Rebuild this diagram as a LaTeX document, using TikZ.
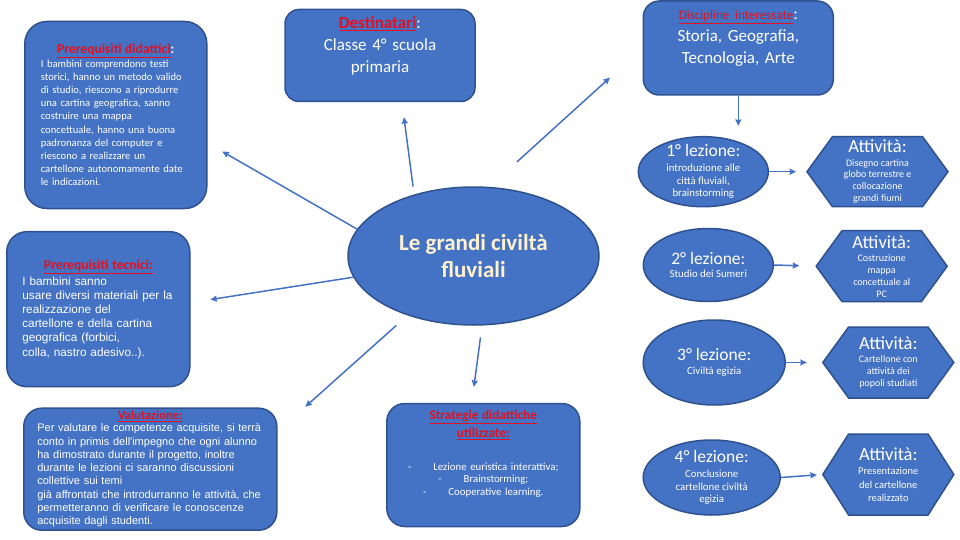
\documentclass[tikz,border=0pt]{standalone}
\usepackage{fontspec}
\setmainfont{Carlito}
\newfontfamily\arialfont{Liberation Sans}
\usetikzlibrary{arrows.meta,shapes.geometric,shapes.symbols}
\definecolor{boxblue}{RGB}{68,114,196}
\definecolor{boxline}{RGB}{47,82,143}
\definecolor{titlered}{RGB}{226,16,32}
\definecolor{topiccream}{RGB}{255,242,204}
\newcommand{\boxtitle}[1]{{\color{titlered}\underline{#1}}}
\tikzset{
  info box/.style={
    rectangle, rounded corners=18pt, draw=boxline, line width=1.5pt,
    fill=boxblue, text=white, inner sep=0pt
  },
  topic/.style={
    ellipse, draw=boxline, line width=1.5pt, fill=boxblue,
    text=topiccream, align=center, inner sep=0pt,
    font=\bfseries\fontsize{23}{27}\selectfont,
    minimum width=251pt, minimum height=138pt
  },
  lesson/.style={
    ellipse, draw=boxline, line width=1.5pt, fill=boxblue, text=white,
    align=center, inner xsep=0pt, inner ysep=-14pt,
    font=\fontsize{10.8}{12.7}\selectfont
  },
  activity/.style={
    signal, signal to=west and east, signal pointer angle=108,
    draw=boxline, line width=1.5pt, fill=boxblue, text=white,
    align=center, inner xsep=0pt, inner ysep=-8pt,
    minimum width=131pt, minimum height=71pt,
    font=\fontsize{10}{11.9}\selectfont
  },
  link/.style={-{Stealth[length=6.5pt,width=6pt,inset=0.5pt]}, line width=1.5pt, boxblue}
}

\begin{document}
\begin{tikzpicture}[x=1pt,y=-1pt]
  \useasboundingbox (0,0) rectangle (960,540);

  % central topic
  \node[topic] (hub) at (473.5,256) {Le grandi civiltà\\fluviali};

  % boxes round the topic
  \node[info box, minimum width=182pt, minimum height=187pt, rounded corners=22pt,
        text width=150pt, align=left, font=\fontsize{10.6}{13.2}\selectfont] (did) at (115.8,115)
    {\makebox[\linewidth]{\bfseries\fontsize{13.5}{14}\selectfont\boxtitle{Prerequisiti didattici}:}\\[0.5pt]
     I bambini comprendono testi\\storici, hanno un metodo valido\\di studio, riescono a riprodurre\\
     una cartina geografica, sanno\\costruire una mappa\\concettuale, hanno una buona\\
     padronanza del computer e\\riescono a realizzare un\\cartellone autonomamente date\\le indicazioni.};

  \node[info box, minimum width=183pt, minimum height=155pt, rounded corners=20pt,
        text width=152pt, align=left, font=\arialfont\fontsize{11.8}{14.1}\selectfont] (tec) at (98.3,309.2)
    {\makebox[\linewidth]{\normalfont\bfseries\fontsize{13.5}{14}\selectfont\boxtitle{Prerequisiti tecnici:}}\\[2pt]
     I bambini sanno\\usare diversi materiali per la\\realizzazione del\\cartellone e della cartina\\
     geografica (forbici,\\colla, nastro adesivo..).};

  \node[info box, minimum width=253pt, minimum height=122pt,
        text width=226pt, align=left, font=\arialfont\fontsize{11}{13.3}\selectfont] (val) at (150.3,469.2)
    {\makebox[\linewidth]{\normalfont\bfseries\fontsize{12.5}{13}\selectfont\boxtitle{Valutazione:}}\\[-1.5pt]
     Per valutare le competenze acquisite, si terrà\\conto in primis dell'impegno che ogni alunno\\
     ha dimostrato durante il progetto, inoltre\\durante le lezioni ci saranno discussioni\\
     collettive sui temi\\già affrontati che introdurranno le attività, che\\
     permetteranno di verificare le conoscenze\\acquisite dagli studenti.};

  \node[info box, minimum width=190pt, minimum height=92pt, rounded corners=14pt,
        text width=180pt, align=center, font=\fontsize{17}{22}\selectfont] (dest) at (380,55.5)
    {{\bfseries\boxtitle{Destinatari}}:\\Classe 4° scuola\\primaria\\\mbox{}};

  \node[info box, minimum width=190pt, minimum height=94pt, rounded corners=16pt,
        text width=180pt, align=center, font=\fontsize{17}{22}\selectfont] (disc) at (738.3,48)
    {{\fontsize{13}{14}\selectfont\boxtitle{Discipline interessate}}:\\Storia, Geografia,\\Tecnologia, Arte\\\mbox{}};

  \node[info box, minimum width=193pt, minimum height=123pt,
        text width=180pt, align=center, font=\fontsize{10.8}{12.5}\selectfont] (strat) at (483.3,465)
    {{\bfseries\fontsize{13.2}{14}\selectfont\boxtitle{Strategie didattiche}\\[4pt]\boxtitle{utilizzate:}}\\[20pt]
     -\hspace{22pt}Lezione euristica interattiva;\\-\hspace{22pt}Brainstorming;\\
     -\hspace{22pt}Cooperative learning.\\[12pt]\mbox{}};

  % lessons and activities
  \node[lesson, minimum width=130pt, minimum height=70pt] (les1) at (703.3,171.7)
    {{\fontsize{17.5}{18}\selectfont 1° lezione:}\\[2pt]introduzione alle\\città fluviali,\\brainstorming};
  \node[lesson, minimum width=130pt, minimum height=73pt] (les2) at (708.3,265)
    {{\fontsize{17.5}{18}\selectfont 2° lezione:}\\[0pt]Studio dei Sumeri};
  \node[lesson, minimum width=142pt, minimum height=85pt] (les3) at (714.2,362.5)
    {{\fontsize{17.5}{18}\selectfont 3° lezione:}\\[1.5pt]Civiltà egizia};
  \node[lesson, minimum width=137pt, minimum height=75pt] (les4) at (711.7,477.5)
    {{\fontsize{17.5}{18}\selectfont 4° lezione:}\\[2pt]Conclusione\\cartellone civiltà\\egizia};

  \node[activity, minimum width=141pt, minimum height=70pt] (act1) at (877.5,171.7)
    {{\fontsize{18.5}{18}\selectfont Attività:}\\[1.5pt]Disegno cartina\\globo terrestre e\\collocazione\\grandi fiumi};
  \node[activity] (act2) at (881.7,266.2)
    {{\fontsize{18.5}{18}\selectfont Attività:}\\[1.5pt]Costruzione\\mappa\\concettuale al\\PC};
  \node[activity] (act3) at (888.3,362.5)
    {{\fontsize{18.5}{18}\selectfont Attività:}\\[1.5pt]Cartellone con\\attività dei\\popoli studiati};
  \node[activity, minimum height=81pt, signal pointer angle=115, font=\fontsize{10.5}{13.3}\selectfont] (act4) at (888.3,474.5)
    {{\fontsize{18.5}{18}\selectfont Attività:}\\[1.5pt]Presentazione\\del cartellone\\realizzato};

  % connectors
  \draw[link, shorten <=8pt, shorten >=15pt] (hub.134) -- ([xshift=22pt]dest.south);
  \draw[link, shorten <=37pt, shorten >=44pt] (hub.77) -- (disc.west);
  \draw[link, shorten >=17pt] (hub.167) -- ([yshift=-28pt]did.east);
  \draw[link, shorten >=20pt] (hub.190) -- ([yshift=6.5pt]tec.east);
  \draw[link, shorten <=15pt, shorten >=1pt] (hub.222) -- ([xshift=27pt]val.north east);
  \draw[link, shorten <=12pt, shorten >=16pt] (hub.277) -- ([xshift=-11.5pt]strat.north);
  \draw[link, shorten >=10pt] (disc.south) -- (disc.south |- les1.north);
  \draw[link, shorten >=10pt] (les1.east) -- (act1.west);
  \draw[link, shorten >=16pt] (les2.east) -- (act2.west);
  \draw[link, shorten >=15pt] (les3.east) -- (act3.west);
  \draw[link, shorten >=5pt] (les4.east) -- (act4.west);
\end{tikzpicture}
\end{document}
